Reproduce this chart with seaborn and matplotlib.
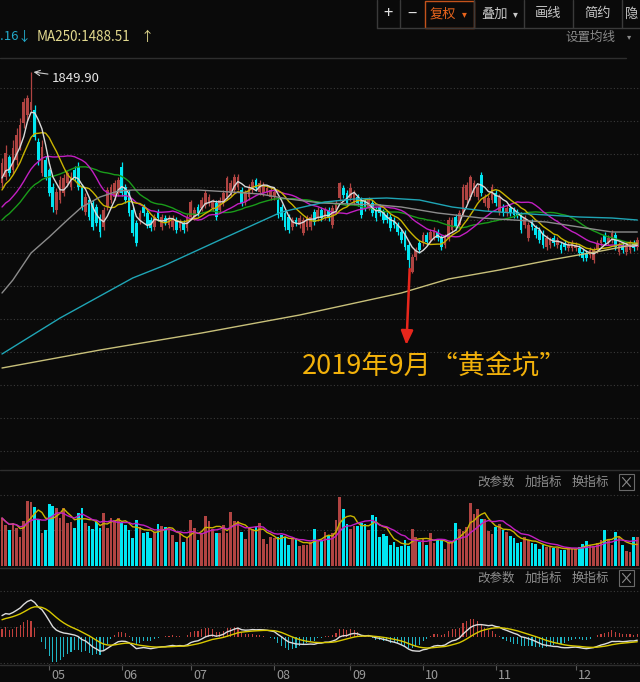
import numpy as np
import pandas as pd
import matplotlib
matplotlib.use("Agg")
import matplotlib.pyplot as plt
import matplotlib.transforms as mtransforms
from matplotlib.patches import Rectangle
import seaborn as sns

# ---------------- data ----------------
opens = [1628, 1640, 1680, 1654, 1674, 1700, 1748, 1764, 1774, 1774, 1710, 1648, 1674, 1654, 1620,
         1574, 1594, 1608, 1628, 1620, 1654, 1660, 1620, 1570, 1594, 1588, 1580, 1560, 1540, 1580,
         1594, 1600, 1608, 1660, 1620, 1608, 1574, 1548, 1554, 1580, 1568, 1554, 1540, 1570, 1540,
         1558, 1544, 1540, 1554, 1538, 1548, 1538, 1560, 1560, 1580, 1578, 1584, 1588, 1578, 1588,
         1574, 1588, 1600, 1608, 1614, 1620, 1614, 1590, 1600, 1614, 1634, 1610, 1608, 1610, 1600,
         1600, 1594, 1580, 1568, 1560, 1540, 1554, 1544, 1528, 1540, 1540, 1570, 1558, 1574,
         1560, 1574, 1544, 1574, 1598, 1618, 1608, 1598, 1590, 1600, 1594, 1590, 1580, 1588, 1574,
         1580, 1570, 1564, 1560, 1554, 1544, 1530, 1528, 1504, 1450, 1480, 1508, 1508, 1524, 1514,
         1520, 1530, 1518, 1504, 1518, 1534, 1560, 1544, 1568, 1594, 1600, 1608, 1600, 1644,
         1588, 1578, 1594, 1608, 1570, 1580, 1568, 1578, 1574, 1570, 1564, 1544, 1518, 1550, 1538,
         1534, 1528, 1500, 1504, 1518, 1504, 1504, 1508, 1498, 1498, 1498, 1498, 1490, 1488, 1484,
         1474, 1494, 1508, 1524, 1510, 1514, 1524, 1490, 1504, 1490, 1494, 1508, 1500]
closes = [1668, 1688, 1648, 1698, 1724, 1744, 1790, 1798, 1790, 1720, 1674, 1700, 1640, 1608, 1580,
          1610, 1634, 1638, 1648, 1640, 1638, 1620, 1580, 1600, 1560, 1540, 1548, 1530, 1574, 1614,
          1620, 1628, 1634, 1608, 1594, 1568, 1528, 1508, 1568, 1568, 1544, 1538, 1560, 1558, 1560,
          1550, 1558, 1558, 1534, 1550, 1534, 1560, 1590, 1574, 1568, 1594, 1608, 1600, 1590, 1560,
          1594, 1608, 1638, 1628, 1640, 1640, 1588, 1608, 1620, 1630, 1618, 1628, 1624, 1618, 1614,
          1610, 1564, 1560, 1540, 1534, 1554, 1548, 1558, 1554, 1558, 1560, 1550, 1574, 1558,
          1574, 1558, 1578, 1588, 1628, 1604, 1588, 1618, 1608, 1588, 1564, 1578, 1594, 1568, 1558,
          1568, 1554, 1554, 1538, 1544, 1530, 1514, 1500, 1474, 1480, 1494, 1494, 1524, 1510, 1530,
          1534, 1518, 1500, 1520, 1554, 1554, 1540, 1568, 1620, 1624, 1640, 1628, 1620, 1608,
          1600, 1598, 1620, 1588, 1600, 1568, 1578, 1568, 1564, 1564, 1534, 1558, 1544, 1540, 1524,
          1514, 1504, 1518, 1514, 1508, 1514, 1494, 1500, 1504, 1508, 1504, 1488, 1478, 1478, 1494,
          1494, 1508, 1514, 1510, 1518, 1528, 1500, 1504, 1494, 1504, 1508, 1498, 1514]
highs = [1678, 1704, 1684, 1714, 1738, 1758, 1798, 1804, 1849.9, 1784, 1718, 1714, 1682, 1658, 1628,
         1618, 1642, 1646, 1654, 1650, 1662, 1670, 1626, 1608, 1600, 1594, 1586, 1566, 1580, 1620,
         1626, 1634, 1640, 1670, 1626, 1614, 1580, 1554, 1574, 1586, 1574, 1560, 1566, 1576, 1566,
         1564, 1564, 1564, 1560, 1556, 1554, 1566, 1594, 1580, 1586, 1600, 1614, 1606, 1596, 1594,
         1600, 1614, 1642, 1634, 1646, 1646, 1620, 1614, 1626, 1636, 1638, 1634, 1630, 1624, 1620,
         1616, 1600, 1586, 1574, 1566, 1560, 1560, 1564, 1560, 1564, 1566, 1576, 1580, 1580,
         1580, 1580, 1584, 1594, 1630, 1624, 1614, 1628, 1614, 1606, 1600, 1596, 1600, 1594, 1580,
         1586, 1576, 1570, 1566, 1560, 1550, 1536, 1534, 1510, 1486, 1500, 1514, 1530, 1530, 1536,
         1540, 1536, 1524, 1526, 1560, 1560, 1566, 1574, 1626, 1630, 1644, 1634, 1626, 1650,
         1606, 1604, 1626, 1614, 1606, 1586, 1584, 1584, 1580, 1576, 1570, 1564, 1550, 1556, 1544,
         1540, 1534, 1524, 1520, 1524, 1520, 1510, 1514, 1510, 1514, 1510, 1504, 1496, 1494, 1500,
         1500, 1514, 1520, 1530, 1524, 1534, 1530, 1510, 1510, 1510, 1514, 1514, 1520]
lows = [1618, 1634, 1642, 1646, 1664, 1694, 1738, 1754, 1770, 1714, 1664, 1642, 1634, 1602, 1570,
        1566, 1588, 1602, 1622, 1614, 1632, 1614, 1574, 1564, 1554, 1534, 1542, 1520, 1534, 1574,
        1588, 1594, 1602, 1602, 1588, 1562, 1522, 1502, 1546, 1562, 1538, 1532, 1534, 1552, 1534,
        1544, 1538, 1534, 1528, 1532, 1528, 1532, 1554, 1554, 1562, 1572, 1578, 1582, 1572, 1554,
        1568, 1582, 1594, 1602, 1608, 1614, 1582, 1584, 1594, 1608, 1612, 1604, 1602, 1604, 1594,
        1594, 1558, 1554, 1534, 1528, 1534, 1542, 1538, 1524, 1534, 1534, 1544, 1552, 1552,
        1554, 1552, 1538, 1568, 1592, 1598, 1582, 1592, 1584, 1582, 1558, 1572, 1574, 1562, 1552,
        1562, 1548, 1548, 1532, 1538, 1524, 1508, 1494, 1454, 1448, 1474, 1488, 1502, 1504, 1508,
        1514, 1512, 1494, 1498, 1512, 1528, 1534, 1538, 1562, 1588, 1594, 1602, 1594, 1602,
        1582, 1572, 1588, 1582, 1564, 1562, 1562, 1562, 1558, 1558, 1528, 1538, 1512, 1534, 1518,
        1508, 1498, 1494, 1498, 1502, 1498, 1488, 1494, 1492, 1492, 1492, 1482, 1472, 1472, 1478,
        1468, 1488, 1502, 1504, 1504, 1508, 1494, 1484, 1488, 1484, 1488, 1492, 1494]
volumes = [48, 41, 36, 43, 38, 29, 45, 65, 64, 59, 47, 33, 36, 62, 60, 58, 48, 58, 43, 44,
           38, 53, 58, 43, 40, 37, 44, 38, 53, 38, 48, 46, 48, 43, 41, 36, 28, 46, 39, 33,
           34, 28, 34, 42, 40, 39, 37, 31, 24, 33, 24, 29, 46, 38, 26, 33, 50, 45, 37, 33,
           33, 41, 33, 54, 45, 45, 34, 27, 38, 37, 39, 43, 27, 22, 29, 28, 29, 31, 29, 21,
           28, 27, 20, 21, 21, 24, 37, 26,
           26, 34, 31, 33, 46, 69, 57, 42, 37, 40, 40, 43, 42, 36, 51, 49, 29, 32, 30, 21,
           24, 19, 20, 26, 20, 37, 29, 24, 27, 21, 33, 23, 27, 26, 17, 23, 23, 43, 37, 35,
           39, 63, 52, 57, 47, 47, 35, 32, 39, 42, 36, 34, 30, 28, 23, 24, 29, 26, 23, 22,
           17, 21, 19, 19, 18, 18, 16, 16, 18, 18, 17, 19, 22, 25, 21, 20, 23, 26, 36, 27,
           21, 34, 29, 21, 15, 14, 29, 29]
# closes before the first visible bar (implied by the MA5/10/20/30 start values)
pre_closes = [1470, 1485, 1478, 1495, 1505, 1498, 1512, 1520, 1515, 1542,
              1530, 1548, 1535, 1552, 1540, 1560, 1545, 1555, 1548, 1547,
              1565, 1580, 1595, 1600, 1610, 1615, 1635, 1628, 1644]
# long moving averages (bar index, value)
ma60_idx = [0, 3, 8, 13, 18, 22, 27, 32, 36, 45, 54, 63, 71, 79, 88, 96, 104, 110, 120, 132, 141, 150, 159, 168, 175]
ma60_val = [1408, 1434, 1488, 1520, 1554, 1580, 1600, 1612, 1614, 1614, 1614, 1610, 1606, 1596, 1588, 1586,
            1584, 1580, 1568, 1558, 1554, 1550, 1540, 1530, 1530]
ma120_idx = [0, 16, 36, 45, 60, 77, 89, 97, 106, 115, 124, 133, 141, 150, 159, 168, 175]
ma120_val = [1286, 1358, 1438, 1464, 1514, 1570, 1590, 1596, 1598, 1594, 1580, 1572, 1568, 1564, 1560, 1558, 1554]
ma250_idx = [0, 27, 55, 82, 110, 123, 137, 151, 165, 175]
ma250_val = [1258, 1294, 1328, 1364, 1408, 1436, 1454, 1474, 1492, 1506]
month_idx = [13, 33, 52, 75, 96, 116, 136, 158]
month_labels = ["05", "06", "07", "08", "09", "10", "11", "12"]
peak_label = "1849.90"
pit_idx = 112
pit_text = "2019年9月\u201c黄金坑\u201d"

# ---------------- style ----------------
BG = "#0a0a0a"
sns.set_theme(style="dark", rc={"axes.facecolor": BG, "figure.facecolor": BG,
                                "savefig.facecolor": BG, "axes.edgecolor": BG,
                                "axes.grid": False, "patch.force_edgecolor": False,
                                "patch.edgecolor": "none"})
plt.rcParams["font.family"] = ["Noto Sans CJK SC", "DejaVu Sans"]

W, H = 640, 682
fig = plt.figure(figsize=(W / 100, H / 100), dpi=100)


def box(top, bottom, left=0, right=W):
    return [left / W, 1 - bottom / H, (right - left) / W, (bottom - top) / H]


ax = fig.add_axes(box(58, 468))
axv = fig.add_axes(box(492, 566))
axm = fig.add_axes(box(588, 664))

n = len(closes)
x = np.arange(n)
o = np.array(opens, float)
c = np.array(closes, float)
hi = np.array(highs, float)
lo = np.array(lows, float)
up = c >= o
RED = "#b04442"
CYAN = "#00e6f2"
colors = np.where(up, RED, CYAN)
XL = (-0.55, n - 0.25)

for a in (ax, axv, axm):
    a.set_xlim(*XL)
    a.set_xticks([])
    a.set_yticks([])
    for s in a.spines.values():
        s.set_visible(False)

GRID = "#3a3a3a"
DOT = (0, (1, 2))

# ---------- main panel ----------
ax.set_ylim(1058, 1878)
for lvl in np.arange(1092, 1819, 66):
    ax.axhline(lvl, color=GRID, lw=0.8, ls=DOT, zorder=0)

ax.vlines(x, lo, hi, colors=colors, linewidth=0.9, zorder=2)
body_bottom = np.minimum(o, c)
body_h = np.maximum(np.abs(c - o), 1.5)
ax.bar(x, body_h, bottom=body_bottom, width=0.74, color=colors, edgecolor="none",
       linewidth=0, zorder=2)

full = pd.Series(pre_closes + closes, dtype=float)
k = len(pre_closes)
for w, col in [(30, "#1a9c1a"), (20, "#c21fc2"), (10, "#c9b400"), (5, "#d9d9d9")]:
    m = full.rolling(w, min_periods=1).mean().iloc[k:].to_numpy()
    sns.lineplot(x=x, y=m, ax=ax, color=col, linewidth=1.0, zorder=3, legend=False)
sns.lineplot(x=ma60_idx, y=ma60_val, ax=ax, color="#8c8c8c", linewidth=1.0, zorder=3, legend=False)
sns.lineplot(x=ma120_idx, y=ma120_val, ax=ax, color="#1fa5b5", linewidth=1.0, zorder=3, legend=False)
sns.lineplot(x=ma250_idx, y=ma250_val, ax=ax, color="#c8c07a", linewidth=1.0, zorder=3, legend=False)
ax.set_xlabel("")
ax.set_ylabel("")

peak_i = int(np.argmax(hi))
ax.annotate(peak_label, xy=(peak_i + 0.7, hi[peak_i]), xytext=(peak_i + 5.8, hi[peak_i] - 12),
            color="#e6e6e6", fontsize=9.5, ha="left", va="center",
            arrowprops=dict(arrowstyle="->", color="#cfcfcf", lw=0.8, shrinkA=1, shrinkB=0))
ax.annotate("", xy=(pit_idx - 0.6, 1304), xytext=(pit_idx + 0.3, lo[pit_idx] + 2),
            arrowprops=dict(arrowstyle="-|>,head_length=0.7,head_width=0.3", color="#e8261c",
                            lw=1.8, shrinkA=0, shrinkB=0), zorder=5)
ax.text(82.6, 1262, pit_text, color="#f2b10a", fontsize=19.5, ha="left", va="center", zorder=5)

# ---------- volume panel ----------
axv.set_ylim(0, 74)
for lvl in (71, 36):
    axv.axhline(lvl, color=GRID, lw=0.8, ls=DOT, zorder=0)
axv.bar(x, volumes, width=0.74, color=colors, edgecolor="none", linewidth=0, zorder=2)
vs = pd.Series(volumes, dtype=float)
sns.lineplot(x=x, y=vs.rolling(5, min_periods=1).mean().to_numpy(), ax=axv, color="#c9b400",
             linewidth=1.0, zorder=3, legend=False)
sns.lineplot(x=x, y=vs.rolling(10, min_periods=1).mean().to_numpy(), ax=axv, color="#c21fc2",
             linewidth=1.0, zorder=3, legend=False)
axv.set_xlabel("")
axv.set_ylabel("")

# ---------- MACD panel ----------
ema12 = full.ewm(span=12, adjust=False).mean()
ema26 = full.ewm(span=26, adjust=False).mean()
dif_full = ema12 - ema26
dea_full = dif_full.ewm(span=9, adjust=False).mean()
dif = dif_full.iloc[k:].to_numpy()
dea = dea_full.iloc[k:].to_numpy()
hist = 2 * (dif - dea)
M = dif.max()
axm.set_ylim(-27 / 37 * M, 49 / 37 * M)
for f in (0.96, 0.487, 0.013):
    axm.plot([0, 1], [f, f], transform=axm.transAxes, color=GRID, lw=0.8, ls=DOT, zorder=0)
axm.bar(x, hist, width=0.3, color=np.where(hist >= 0, "#c0403c", "#1fb5c5"),
        edgecolor="none", linewidth=0, zorder=2)
sns.lineplot(x=x, y=dif, ax=axm, color="#dcdcdc", linewidth=1.0, zorder=3, legend=False)
sns.lineplot(x=x, y=dea, ax=axm, color="#d8c800", linewidth=1.0, zorder=3, legend=False)
axm.set_xlabel("")
axm.set_ylabel("")
axm.set_xticks(month_idx)
axm.tick_params(axis="x", bottom=True, length=4, width=0.8, color="#5a5a5a",
                labelbottom=False, direction="out")
trans = mtransforms.blended_transform_factory(axm.transData, axm.transAxes)
for mi, lab in zip(month_idx, month_labels):
    axm.text(mi + 2.5, -0.145, lab, transform=trans, color="#9a9a9a", fontsize=9,
             ha="center", va="center")

# ---------- overlay: toolbar, headers, separators ----------
ov = fig.add_axes([0, 0, 1, 1])
ov.patch.set_visible(False)
ov.set_xlim(0, W)
ov.set_ylim(H, 0)
ov.axis("off")

SEP = "#2e2e2e"
for yy in (470, 568, 665):
    ov.plot([0, W], [yy, yy], color=SEP, lw=1.0)
ov.plot([0, 626], [58, 58], color=SEP, lw=1.0)
ov.plot([377, W], [28, 28], color="#3a3a3a", lw=1.0)
for xx in (377, 400, 474, 524, 573, 622):
    ov.plot([xx, xx], [0, 28], color="#3a3a3a", lw=1.0)
ov.add_patch(Rectangle((424.5, 0.5), 49, 27, fill=False, edgecolor="#c4531c", lw=1.0))

TB = "#c8c8c8"
ov.text(388, 14, "+", color="#e0e0e0", fontsize=12, ha="center", va="center")
ov.text(412, 14, "\u2212", color="#e0e0e0", fontsize=12, ha="center", va="center")
ov.text(443, 14, "复权", color="#e8641c", fontsize=9.5, ha="center", va="center")
ov.text(464, 14, "\u25be", color="#e8641c", fontsize=7, ha="center", va="center")
ov.text(494, 14, "叠加", color=TB, fontsize=9.5, ha="center", va="center")
ov.text(515, 14, "\u25be", color=TB, fontsize=7, ha="center", va="center")
ov.text(548, 14, "画线", color=TB, fontsize=9.5, ha="center", va="center")
ov.text(598, 14, "简约", color=TB, fontsize=9.5, ha="center", va="center")
ov.text(625, 14, "隐", color=TB, fontsize=9.5, ha="left", va="center")

ov.text(0, 37, ".16", color="#22a9c9", fontsize=9.5, ha="left", va="center")
ov.text(24, 37, "\u2193", color="#22a9c9", fontsize=9.5, ha="center", va="center")
ov.text(37, 37, "MA250:1488.51", color="#e2d98e", fontsize=9.7, ha="left", va="center")
ov.text(140, 37, "\u2191", color="#e2d98e", fontsize=9.5, ha="left", va="center")
ov.text(565, 37, "设置均线", color="#8a8a8a", fontsize=9, ha="left", va="center")
ov.text(629, 37, "\u25be", color="#8a8a8a", fontsize=6, ha="center", va="center")

for yy in (482, 578):
    ov.text(496, yy, "改参数", color="#8c8c8c", fontsize=9, ha="center", va="center")
    ov.text(543, yy, "加指标", color="#8c8c8c", fontsize=9, ha="center", va="center")
    ov.text(590, yy, "换指标", color="#8c8c8c", fontsize=9, ha="center", va="center")
    ov.add_patch(Rectangle((619, yy - 8), 15, 16, fill=False, edgecolor="#6a6a6a", lw=0.8))
    ov.plot([622.5, 630.5], [yy - 4.5, yy + 4.5], color="#8a8a8a", lw=0.8)
    ov.plot([622.5, 630.5], [yy + 4.5, yy - 4.5], color="#8a8a8a", lw=0.8)

fig.savefig("out.png", dpi=100, facecolor=BG)
